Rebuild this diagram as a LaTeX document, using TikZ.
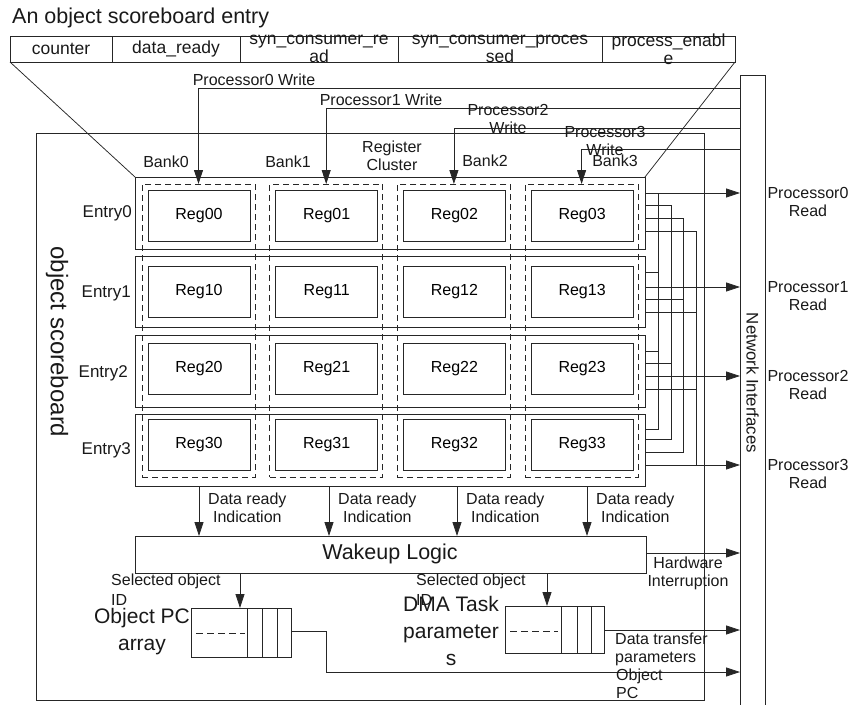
\documentclass[tikz,border=0pt]{standalone}
\usepackage{fontspec}
\setmainfont{Liberation Sans}
\usetikzlibrary{arrows.meta}
\begin{document}
\begin{tikzpicture}[x=1pt,y=-1pt,
  ln/.style={line width=0.75pt, draw=black!85},
  bx/.style={draw=black!85, line width=0.75pt, inner sep=0pt, outer sep=0pt},
  dbx/.style={bx, dash pattern=on 6pt off 4pt},
  arr/.style={ln, -{Triangle[length=14pt,width=9pt]}},
  tx/.style={inner sep=0pt, align=center, text=black!90},
  ts/.style={tx, font=\fontsize{16}{18}\selectfont},
  tsl/.style={tx, align=left, font=\fontsize{16}{20}\selectfont},
  tt/.style={tx, font=\fontsize{17.5}{18}\selectfont},
  tb/.style={tx, font=\fontsize{21}{27}\selectfont},
  reg/.style={bx, minimum width=102pt, minimum height=51pt, font=\fontsize{16}{18}\selectfont}]
\useasboundingbox (0,0) rectangle (851,704);

% title and entry table
\node[tx, anchor=west, font=\fontsize{21.5}{24}\selectfont] (title) at (12,18) {An object scoreboard entry};
\node[bx, minimum width=102pt, minimum height=26pt] (c1) at (61,49) {};
\node[bx, minimum width=128pt, minimum height=26pt] (c2) at (176,49) {};
\node[bx, minimum width=158pt, minimum height=26pt] (c3) at (319,49) {};
\node[bx, minimum width=204pt, minimum height=26pt] (c4) at (500,49) {};
\node[bx, minimum width=133pt, minimum height=26pt] (c5) at (668.5,49) {};
\node[tt] (c1t) at (c1.center) {counter};
\node[tt] (c2t) at (c2.center) {data\_ready};
\node[tt] (c3t) at (c3.center) {syn\_consumer\_re\\ad};
\node[tt] (c4t) at (c4.center) {syn\_consumer\_proces\\sed};
\node[tt] (c5t) at (c5.center) {process\_enabl\\e};

% outer boxes
\node[bx, minimum width=668pt, minimum height=567pt] (sb) at (370,416.5) {};
\node[tx, rotate=-90, font=\fontsize{24}{26}\selectfont] (sbt) at (57,342) {object scoreboard};
\node[bx, minimum width=25pt, minimum height=640pt] (ni) at (752.5,395) {};
\node[tx, rotate=-90, font=\fontsize{16.8}{18}\selectfont] (nit) at (752.5,383) {Network Interfaces};

% entries
\node[bx, minimum width=510pt, minimum height=72pt] (e0) at (390,213) {};
\node[bx, minimum width=510pt, minimum height=71pt] (e1) at (390,291.5) {};
\node[bx, minimum width=510pt, minimum height=72pt] (e2) at (390,371) {};
\node[bx, minimum width=510pt, minimum height=72pt] (e3) at (390,450) {};
\node[tx, anchor=east, font=\fontsize{17}{18}\selectfont] (e0t) at (132,213) {Entry0};
\node[tx, anchor=east, font=\fontsize{17}{18}\selectfont] (e1t) at (131,293) {Entry1};
\node[tx, anchor=east, font=\fontsize{17}{18}\selectfont] (e2t) at (128,373) {Entry2};
\node[tx, anchor=east, font=\fontsize{17}{18}\selectfont] (e3t) at (131,450) {Entry3};

% banks
\node[dbx, minimum width=113pt, minimum height=293pt] (b0) at (198.5,330.5) {};
\node[dbx, minimum width=113pt, minimum height=293pt] (b1) at (326.2,330.5) {};
\node[dbx, minimum width=113pt, minimum height=293pt] (b2) at (453.9,330.5) {};
\node[dbx, minimum width=113pt, minimum height=293pt] (b3) at (581.6,330.5) {};
\node[ts] (b0t) at (166,162) {Bank0};
\node[ts] (b1t) at (288,162) {Bank1};
\node[ts] (rct) at (392,156) {Register\\Cluster};
\node[ts] (b2t) at (485,161) {Bank2};
\node[ts] (b3t) at (615,161) {Bank3};

% registers
\node[reg] (r00) at (199,215.5) {Reg00};
\node[reg] (r01) at (326.7,215.5) {Reg01};
\node[reg] (r02) at (454.4,215.5) {Reg02};
\node[reg] (r03) at (582.1,215.5) {Reg03};
\node[reg] (r10) at (199,292) {Reg10};
\node[reg] (r11) at (326.7,292) {Reg11};
\node[reg] (r12) at (454.4,292) {Reg12};
\node[reg] (r13) at (582.1,292) {Reg13};
\node[reg] (r20) at (199,368.5) {Reg20};
\node[reg] (r21) at (326.7,368.5) {Reg21};
\node[reg] (r22) at (454.4,368.5) {Reg22};
\node[reg] (r23) at (582.1,368.5) {Reg23};
\node[reg] (r30) at (199,445) {Reg30};
\node[reg] (r31) at (326.7,445) {Reg31};
\node[reg] (r32) at (454.4,445) {Reg32};
\node[reg] (r33) at (582.1,445) {Reg33};

% diagonals
\draw[ln] (c1.south west) -- (e0.north west);
\draw[ln] (c5.south east) -- (e0.north east);

% write paths
\draw[arr] (ni.west |- 0,88) -| (b0.north);
\draw[arr] (ni.west |- 0,108) -| (b1.north);
\draw[arr] (ni.west |- 0,128) -| (b2.north);
\draw[arr] (ni.west |- 0,149) -| (b3.north);
\node[ts] (w0t) at (254,80) {Processor0 Write};
\node[ts] (w1t) at (381,100) {Processor1 Write};
\node[ts] (w2t) at (508,119) {Processor2\\Write};
\node[ts] (w3t) at (605,141) {Processor3\\Write};

% read paths
\draw[arr] (e0.east |- 0,193) -- (ni.west |- 0,193);
\draw[ln] (e1.east |- 0,272) -- (658,272);
\draw[ln] (e2.east |- 0,351) -- (658,351);
\draw[ln] (e3.east |- 0,429) -| (658,193);
\draw[ln] (e0.east |- 0,205) -| (671,439) -- (e3.east |- 0,439);
\draw[arr] (e1.east |- 0,287) -- (ni.west |- 0,287);
\draw[ln] (e2.east |- 0,363) -- (671,363);
\draw[ln] (e0.east |- 0,218) -| (683,452) -- (e3.east |- 0,452);
\draw[ln] (e1.east |- 0,299) -- (683,299);
\draw[arr] (e2.east |- 0,376) -- (ni.west |- 0,376);
\draw[ln] (e0.east |- 0,231) -| (696,465);
\draw[ln] (e1.east |- 0,312) -- (696,312);
\draw[ln] (e2.east |- 0,389) -- (696,389);
\draw[arr] (e3.east |- 0,465) -- (ni.west |- 0,465);
\node[ts] (p0t) at (808,202) {Processor0\\Read};
\node[ts] (p1t) at (808,296.5) {Processor1\\Read};
\node[ts] (p2t) at (808,385) {Processor2\\Read};
\node[ts] (p3t) at (808,474) {Processor3\\Read};

% wakeup logic
\node[bx, minimum width=511pt, minimum height=37pt] (wk) at (390.5,554.5) {};
\node[tx, font=\fontsize{21.5}{24}\selectfont] (wkt) at (390,554) {Wakeup Logic};
\draw[arr] (e3.south -| 199,0) -- (wk.north -| 199,0);
\draw[arr] (e3.south -| 329,0) -- (wk.north -| 329,0);
\draw[arr] (e3.south -| 457,0) -- (wk.north -| 457,0);
\draw[arr] (e3.south -| 587,0) -- (wk.north -| 587,0);
\node[ts, anchor=west] (d0t) at (208,508) {Data ready\\Indication};
\node[ts, anchor=west] (d1t) at (338,508) {Data ready\\Indication};
\node[ts, anchor=west] (d2t) at (466,508) {Data ready\\Indication};
\node[ts, anchor=west] (d3t) at (596,508) {Data ready\\Indication};
\draw[arr] (wk.east |- 0,553) -- (ni.west |- 0,553);
\node[ts] (hwt) at (688,573) {Hardware\\Interruption};

% object PC array
\node[bx, minimum width=100pt, minimum height=49pt] (opc) at (241,632.5) {};
\draw[ln] (247,608) -- (247,657);
\draw[ln] (262,608) -- (262,657);
\draw[ln] (277,608) -- (277,657);
\draw[ln, dash pattern=on 7pt off 4pt] (196,633) -- (245,633);
\node[tb] (opct) at (142,631.5) {Object PC\\array};
\draw[arr] (wk.south -| 240,0) -- (opc.north -| 240,0);
\node[tsl, anchor=west] (s0t) at (111,590) {Selected object\\ID};

% DMA task parameters
\node[bx, minimum width=99pt, minimum height=47pt] (dma) at (554.5,629.5) {};
\draw[ln] (561,606) -- (561,653);
\draw[ln] (577,606) -- (577,653);
\draw[ln] (591,606) -- (591,653);
\draw[ln, dash pattern=on 7pt off 4pt] (510,631) -- (558,631);
\node[tb] (dmat) at (451,630.5) {DMA Task\\parameter\\s};
\draw[arr] (wk.south -| 547,0) -- (dma.north -| 547,0);
\node[tsl, anchor=west] (s1t) at (416,590) {Selected object\\ID};

% outputs to network interfaces
\draw[arr] (dma.east |- 0,630) -- (ni.west |- 0,630);
\node[tsl, anchor=west, font=\fontsize{16}{18}\selectfont] (dtt) at (615,649) {Data transfer\\parameters};
\draw[arr] (opc.east |- 0,631) -- (326,631) -- (326,672) -- (ni.west |- 0,672);
\node[tsl, anchor=west, font=\fontsize{16}{18}\selectfont] (opt) at (616,684) {Object\\PC};
\end{tikzpicture}
\end{document}
